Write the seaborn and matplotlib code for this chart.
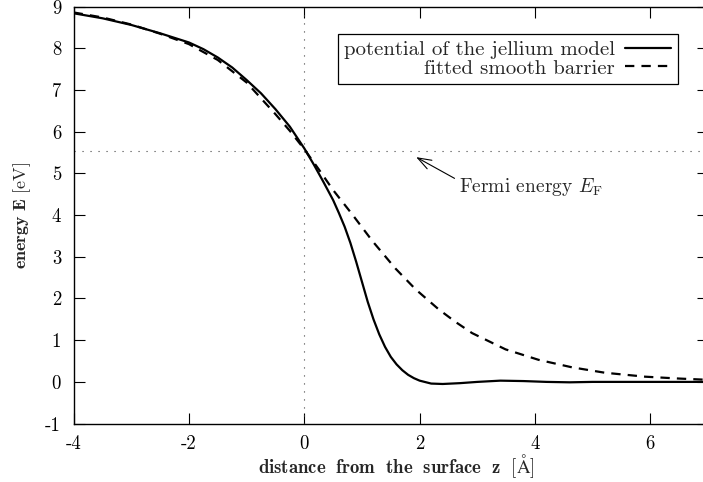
import numpy as np
import pandas as pd
import matplotlib
matplotlib.use("Agg")
import matplotlib.pyplot as plt
import seaborn as sns

# Jellium surface potential (solid) and fitted smooth barrier (dashed), in eV vs. z in Angstrom
z_jellium = [-4.0, -3.5, -3.0, -2.5, -2.0, -1.75, -1.5, -1.25, -1.0, -0.75, -0.5, -0.25,
             0.0, 0.17, 0.33, 0.5, 0.6, 0.7, 0.8, 0.9, 1.0, 1.1, 1.2, 1.3, 1.4, 1.5,
             1.6, 1.7, 1.8, 1.9, 2.0, 2.2, 2.4, 2.7, 3.0, 3.4, 3.8, 4.2, 4.6, 5.0,
             6.0, 7.0]
e_jellium = [8.84, 8.72, 8.56, 8.36, 8.14, 7.98, 7.78, 7.54, 7.24, 6.92, 6.54, 6.12,
             5.60, 5.20, 4.80, 4.36, 4.05, 3.72, 3.33, 2.88, 2.40, 1.92, 1.50, 1.14,
             0.84, 0.60, 0.42, 0.28, 0.17, 0.09, 0.03, -0.04, -0.05, -0.03, 0.0,
             0.03, 0.02, 0.0, -0.01, 0.0, 0.0, 0.0]

z_barrier = [-4.0, -3.5, -3.0, -2.5, -2.0, -1.5, -1.0, -0.5, -0.25, 0.0, 0.25, 0.5,
             0.83, 1.18, 1.58, 1.93, 2.33, 2.62, 2.91, 3.49, 4.06, 4.64, 5.21, 5.91,
             6.5, 7.0]
e_barrier = [8.86, 8.74, 8.57, 8.35, 8.10, 7.72, 7.18, 6.42, 6.02, 5.58, 5.10, 4.60,
             4.02, 3.38, 2.72, 2.22, 1.74, 1.44, 1.17, 0.78, 0.53, 0.35, 0.22, 0.125,
             0.08, 0.05]

fermi_energy = 5.54
x_ticks = [-4, -2, 0, 2, 4, 6]
y_ticks = [-1, 0, 1, 2, 3, 4, 5, 6, 7, 8, 9]

sns.set_theme(style="ticks")
plt.rcParams.update({
    "font.family": "serif",
    "font.serif": ["cmr10"],
    "mathtext.fontset": "cm",
    "axes.unicode_minus": False,
    "axes.formatter.use_mathtext": False,
    "font.size": 13,
    "axes.linewidth": 1.0,
    "axes.edgecolor": "black",
})

fig = plt.figure(figsize=(7.03, 4.82), dpi=100)
ax = fig.add_axes([73.6 / 703, 58.4 / 482, (708 - 73.6) / 703, (423.6 - 6.6) / 482])

jellium = pd.DataFrame({"z": z_jellium, "E": e_jellium})
barrier = pd.DataFrame({"z": z_barrier, "E": e_barrier})

dot_style = (0, (1, 6.2))
ax.axhline(fermi_energy, color="#444444", lw=0.8, linestyle=dot_style, zorder=1)
ax.axvline(0, color="#444444", lw=0.8, linestyle=dot_style, zorder=1)

sns.lineplot(data=jellium, x="z", y="E", ax=ax, color="black", lw=1.6,
             sort=False, label="potential of the jellium model")
sns.lineplot(data=barrier, x="z", y="E", ax=ax, color="black", lw=1.6,
             linestyle=(0, (4.2, 3.2)), sort=False, label="fitted smooth barrier")

ax.set_xlim(-4, 7)
ax.set_ylim(-1, 9)
ax.set_xticks(x_ticks)
ax.set_yticks(y_ticks)
ax.tick_params(direction="in", length=8, width=0.8, top=True, right=True,
               labelsize=13.5, colors="black")
ax.tick_params(axis="x", pad=8)
ax.tick_params(axis="y", pad=9)

ax.set_xlabel(r"$\mathbf{distance\ \ from\ \ the\ \ surface\ \ z}\ \ [\mathrm{\AA}]$",
              fontsize=13.5)
# bottom of the x label rests just inside the lower figure edge
ax.xaxis.set_label_coords(0.508, -0.136)
ax.xaxis.label.set_va("bottom")
ax.set_ylabel(r"$\mathbf{energy\ E}\ [\mathrm{eV}]$", fontsize=13, labelpad=9)

ax.annotate(r"Fermi energy $E_{\rm F}$", xy=(1.94, 5.39), xytext=(2.68, 4.67),
            fontsize=14, va="center", ha="left",
            arrowprops=dict(arrowstyle="->,head_length=0.7,head_width=0.25",
                            color="black", lw=0.8, shrinkA=0, shrinkB=0,
                            relpos=(-0.03, 0.9)))

leg = ax.legend(loc="upper right", bbox_to_anchor=(0.952, 0.934), borderaxespad=0,
                markerfirst=False, fancybox=False, frameon=True, edgecolor="black",
                framealpha=1, fontsize=15, handlelength=2.2, handletextpad=0.5,
                labelspacing=0.0, borderpad=0.3)
leg.get_frame().set_linewidth(0.9)

fig.savefig("out.png", dpi=100)
